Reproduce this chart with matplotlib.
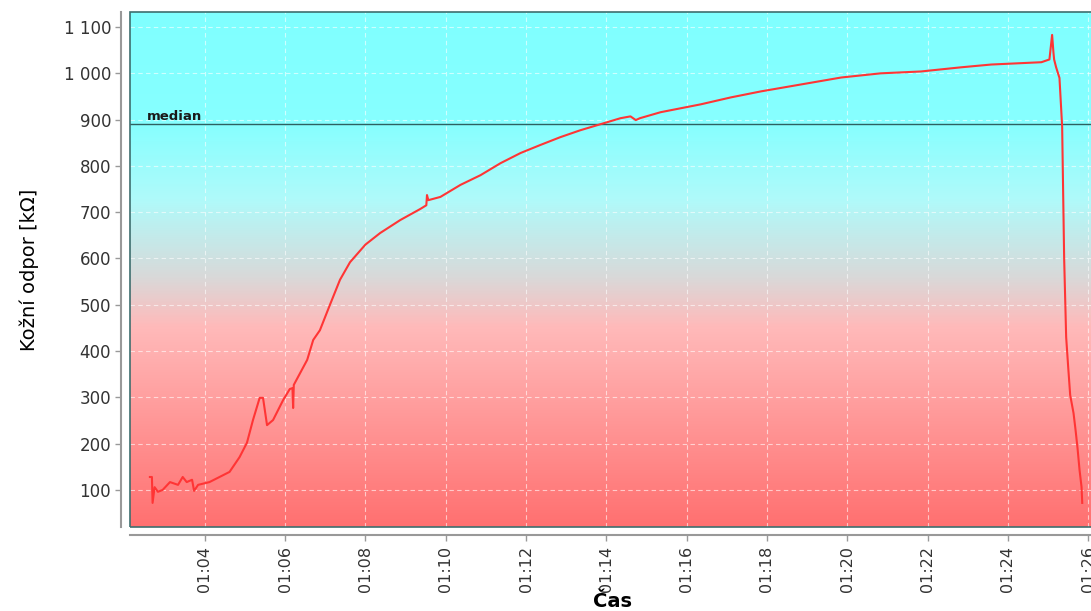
import numpy as np
import pandas as pd
import matplotlib
matplotlib.use("Agg")
import matplotlib.pyplot as plt
import matplotlib.dates as mdates
from matplotlib.colors import LinearSegmentedColormap
from matplotlib.ticker import FuncFormatter, MultipleLocator

#%% Data
times = [
    "01:02:38", "01:02:41", "01:02:42", "01:02:45", "01:02:50", "01:02:57", "01:03:08",
    "01:03:20", "01:03:27", "01:03:33", "01:03:41", "01:03:44", "01:03:50", "01:04:07",
    "01:04:22", "01:04:37", "01:04:52", "01:05:03", "01:05:12", "01:05:22", "01:05:27",
    "01:05:33", "01:05:42", "01:05:57", "01:06:07", "01:06:11", "01:06:12", "01:06:13",
    "01:06:33", "01:06:42", "01:06:52", "01:07:07", "01:07:22", "01:07:37", "01:08:00",
    "01:08:22", "01:08:52", "01:09:22", "01:09:31", "01:09:32", "01:09:34", "01:09:52",
    "01:10:22", "01:10:52", "01:11:22", "01:11:52", "01:12:21", "01:12:51", "01:13:21",
    "01:13:51", "01:14:21", "01:14:36", "01:14:44", "01:14:50", "01:15:21", "01:16:21",
    "01:17:06", "01:17:51", "01:18:51", "01:19:51", "01:20:50", "01:21:50", "01:22:50",
    "01:23:35", "01:24:50", "01:25:02", "01:25:06", "01:25:08", "01:25:09", "01:25:12",
    "01:25:17", "01:25:21", "01:25:24", "01:25:27", "01:25:30", "01:25:33", "01:25:38",
    "01:25:41", "01:25:44", "01:25:47", "01:25:50", "01:25:51",
]
resistance = [
    128, 128, 72, 106, 96, 100, 117,
    111, 128, 117, 122, 98, 111, 117,
    128, 139, 171, 202, 251, 299, 299,
    240, 251, 294, 318, 320, 277, 327,
    381, 424, 445, 500, 554, 592, 630,
    655, 683, 707, 715, 737, 726, 733,
    759, 780, 806, 828, 845, 862, 877,
    890, 903, 907, 899, 903, 916, 933,
    948, 961, 976, 991, 1000, 1004, 1013,
    1019, 1024, 1030, 1083, 1045, 1030, 1013,
    990, 885, 600, 430, 366, 305, 266,
    230, 190, 143, 106, 72,
]
median_value = 890

t = pd.to_datetime(["2000-01-01 " + s for s in times])

#%% Plot
fig = plt.figure(figsize=(10.91, 6.11), dpi=100)
ax = fig.add_axes([0.119, 0.1375, 0.884, 0.8425])

# background gradient cyan -> gray -> red
grad = LinearSegmentedColormap.from_list("bg", [
    (0.0, (0.50, 1.00, 1.00)),
    (0.22, (0.53, 1.00, 1.00)),
    (0.365, (0.69, 0.98, 0.98)),
    (0.515, (0.85, 0.85, 0.85)),
    (0.61, (1.00, 0.73, 0.73)),
    (1.0, (1.00, 0.44, 0.44)),
])
ax.imshow(np.linspace(0, 1, 256).reshape(-1, 1), cmap=grad, aspect="auto",
          extent=[0, 1, 0, 1], transform=ax.transAxes, zorder=0)

ax.plot(t, resistance, color="#ff3535", lw=1.5, zorder=3)
ax.axhline(median_value, color="#2f6060", lw=1.0, zorder=2)
ax.text(0.018, median_value + 3, "median", transform=ax.get_yaxis_transform(),
        fontsize=9.5, fontweight="bold", color="#1a1a1a", va="bottom", zorder=4)

ax.set_ylim(20, 1132)
ax.set_xlim(pd.Timestamp("2000-01-01 01:02:08"), pd.Timestamp("2000-01-01 01:26:09"))

ax.yaxis.set_major_locator(MultipleLocator(100))
ax.yaxis.set_major_formatter(FuncFormatter(lambda v, p: f"{int(v):,}".replace(",", " ")))
ax.xaxis.set_major_locator(mdates.MinuteLocator(byminute=range(0, 60, 2)))
ax.xaxis.set_major_formatter(mdates.DateFormatter("%H:%M"))
ax.tick_params(axis="x", labelrotation=90, labelsize=11.5)

ax.grid(True, color="white", lw=0.8, ls=(0, (4, 3)), alpha=0.6, zorder=1)
ax.set_axisbelow(False)

for side in ["top", "right"]:
    ax.spines[side].set_visible(False)
for side in ["left", "bottom"]:
    ax.spines[side].set_position(("outward", 6))
    ax.spines[side].set_color("#999999")
    ax.spines[side].set_linewidth(1.5)
ax.add_patch(plt.Rectangle((0, 0), 1, 1, transform=ax.transAxes, fill=False,
                           edgecolor="#3e6e6e", lw=1.2, zorder=5, clip_on=False))

ax.tick_params(axis="both", colors="#999999", length=4, width=1, labelcolor="#333333")
ax.tick_params(axis="y", labelsize=12)
ax.set_ylabel("Kožní odpor [kΩ]", fontsize=14, labelpad=18)
ax.set_xlabel("Čas", fontsize=14, fontweight="bold", labelpad=0)

fig.savefig("out.png", dpi=100)
